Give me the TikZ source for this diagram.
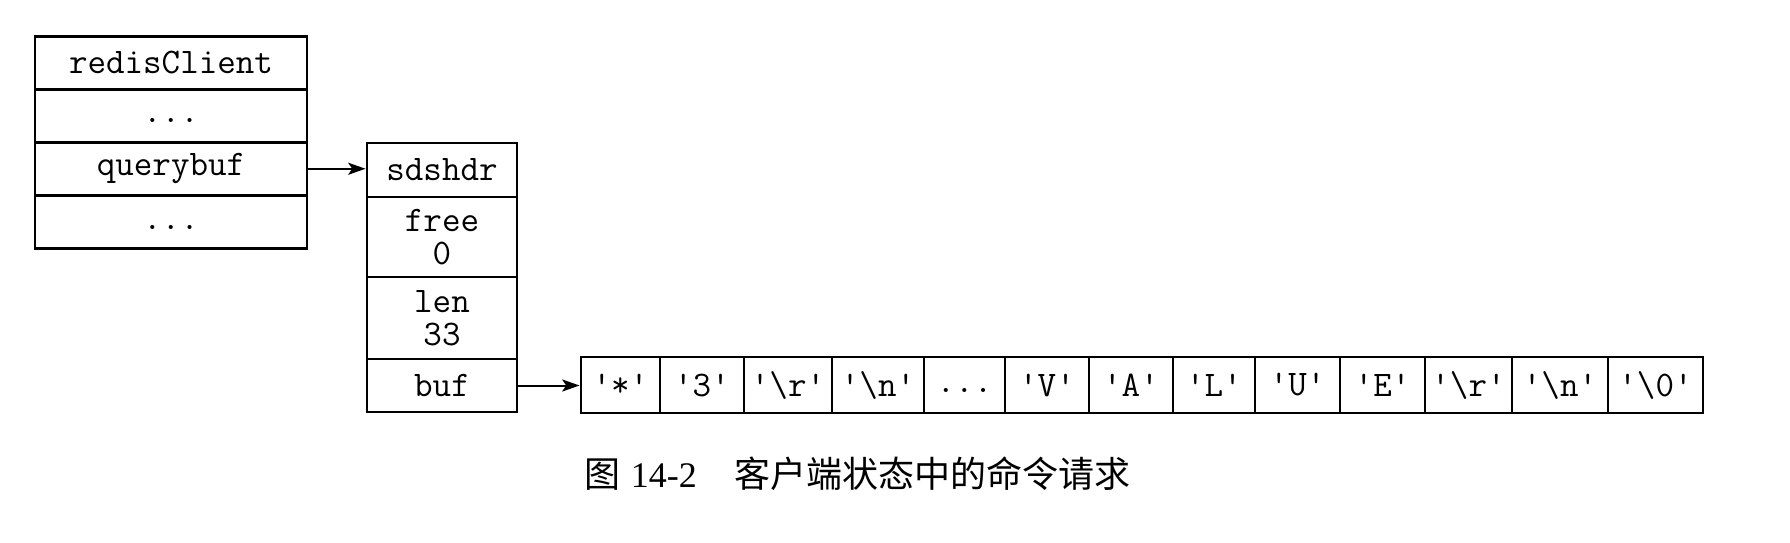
\documentclass[tikz,border=0pt]{standalone}
\usepackage{fontspec}
\usetikzlibrary{arrows.meta}
\newfontfamily\cjk{Noto Sans CJK SC}
\newfontfamily\capfont{Liberation Serif}
\newcommand{\dotsrow}{\vphantom{'Ay}...}
\begin{document}
\begin{tikzpicture}[x=0.75pt,y=-0.75pt,
  cell/.style={draw, line width=2.2pt, inner sep=0pt, align=center,
    font=\ttfamily\fontsize{27}{24.5}\selectfont},
  sz/.style 2 args={minimum width=#1*0.75pt, minimum height=#2*0.75pt},
  link/.style={-{Stealth[length=13pt,width=9pt,inset=3pt]}, line width=1.5pt}]
\useasboundingbox (0,0) rectangle (1790,542);
% redisClient
\node[cell, sz={272}{53.25}] (rc0) at (171,62.75) {redisClient};
\node[cell, sz={272}{53.25}] (rc1) at (171,115.75) {\dotsrow};
\node[cell, sz={272}{53.25}] (rc2) at (171,168.75) {querybuf};
\node[cell, sz={272}{53.25}] (rc3) at (171,222.25) {\dotsrow};
% sdshdr
\node[cell, sz={150}{54}] (s0) at (442,170) {sdshdr};
\node[cell, sz={150}{80}] (s1) at (442,237) {free\\0};
\node[cell, sz={150}{82}] (s2) at (442,318) {len\\33};
\node[cell, sz={150}{53}] (s3) at (442,385.5) {buf};
% buffer array
\foreach \xa/\xb/\txt [count=\i] in {
  581/660/{'*'}, 660/744/{'3'}, 744/832/{'\textbackslash r'},
  832/924/{'\textbackslash n'}, 924/1005/{\dotsrow}, 1005/1089/{'V'},
  1089/1173/{'A'}, 1173/1255/{'L'}, 1255/1340/{'U'}, 1340/1425/{'E'},
  1425/1512/{'\textbackslash r'}, 1512/1608/{'\textbackslash n'},
  1608/1703/{'\textbackslash 0'}}
  \node[cell, minimum width={(\xb-\xa)*0.75pt}, minimum height=42pt]
    (a\i) at ({(\xa+\xb)/2},385) {\txt};
% connectors
\draw[link] (rc2.east) -- (rc2.east -| s0.west);
\draw[link] (s3.east) -- (s3.east -| a1.west);
% caption
\node[anchor=west, inner sep=0pt, font=\fontsize{27}{30}\selectfont] (cap) at (584,474)
  {{\cjk 图}\hspace{8pt}{\capfont 14-2}\hspace{28pt}{\cjk 客户端状态中的命令请求}};
\end{tikzpicture}
\end{document}
